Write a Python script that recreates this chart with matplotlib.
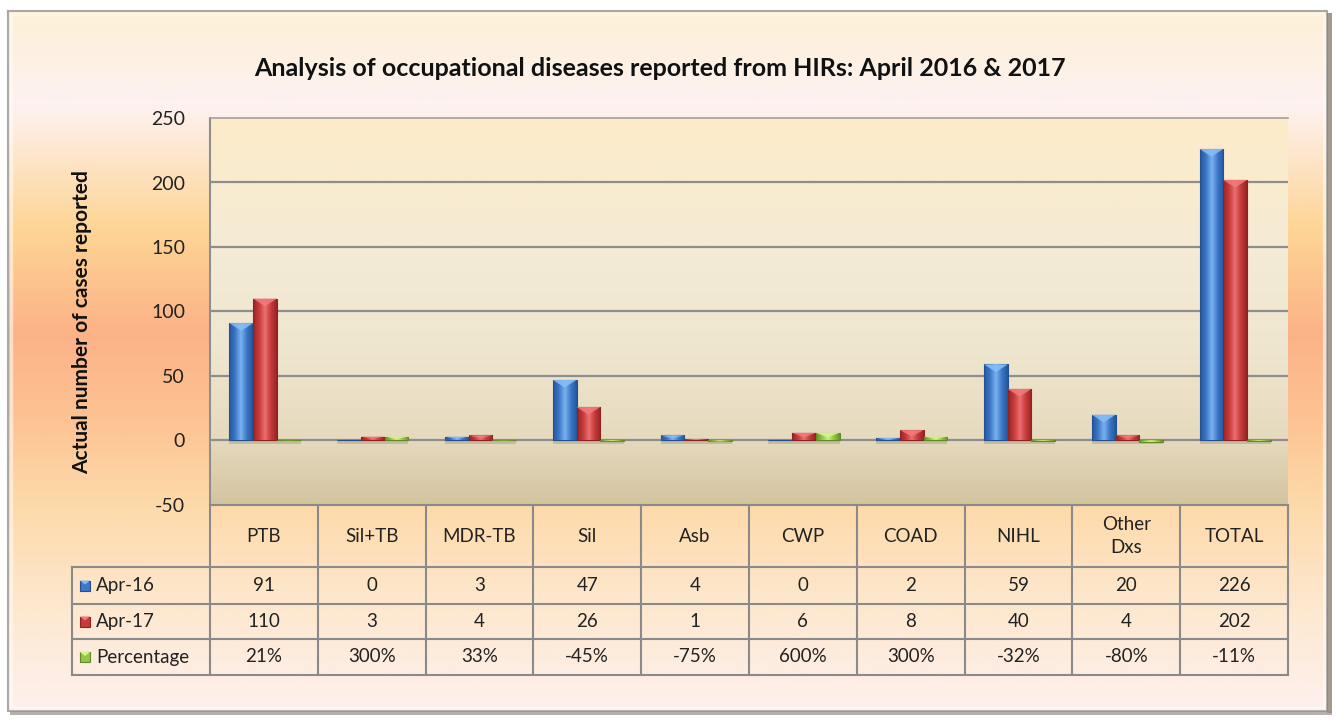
import numpy as np
import matplotlib
matplotlib.use('Agg')
import matplotlib.pyplot as plt
from matplotlib.colors import LinearSegmentedColormap
from matplotlib.patches import Rectangle, Polygon

# data
categories = ['PTB', 'Sil+TB', 'MDR-TB', 'Sil', 'Asb', 'CWP', 'COAD', 'NIHL', 'Other\nDxs', 'TOTAL']
apr16 = [91, 0, 3, 47, 4, 0, 2, 59, 20, 226]
apr17 = [110, 3, 4, 26, 1, 6, 8, 40, 4, 202]
pct_change = [21, 300, 33, -45, -75, 600, 300, -32, -80, -11]
series_names = ['Apr-16', 'Apr-17', 'Percentage']
yticks = [-50, 0, 50, 100, 150, 200, 250]

plt.rcParams['font.family'] = ['Lato', 'DejaVu Sans']

W, H = 1336, 720
fig = plt.figure(figsize=(W / 100, H / 100), dpi=100)

# chart area background (pixel coordinates)
bg = fig.add_axes([0, 0, 1, 1])
bg.set_xlim(0, W)
bg.set_ylim(H, 0)
bg.axis('off')
bg_stops = [(0.0, '#fdf0d6'), (0.13, '#fdf2f2'), (0.31, '#fed595'), (0.46, '#fcb287'),
            (0.58, '#fdc293'), (0.70, '#fdd9a8'), (0.84, '#fde7cc'), (1.0, '#fdf0ee')]
bg_cmap = LinearSegmentedColormap.from_list('bgc', bg_stops)
grad = np.linspace(0, 1, 256).reshape(-1, 1)
bg.imshow(grad, cmap=bg_cmap, extent=(8, 1327, 711, 11), aspect='auto', zorder=0)
bg.add_patch(Rectangle((8, 11), 1319, 700, fill=False, ec='#a8a8a8', lw=1.5, zorder=2))
bg.add_patch(Rectangle((11, 14), 1313, 694, fill=False, ec='#fffaf0', lw=2.5, alpha=0.6, zorder=2))
bg.add_patch(Rectangle((1327, 13), 5, 700, fc='#8d8275', ec='none', alpha=0.8, zorder=2))
bg.add_patch(Rectangle((10, 711), 1322, 4, fc='#9a9088', ec='none', alpha=0.7, zorder=2))

# main plot area
ax = fig.add_axes([210 / W, 1 - 505 / H, 1078 / W, 387 / H])
ax.set_xlim(-0.5, 9.5)
ax.set_ylim(-50, 250)
ax.patch.set_visible(False)
pa_stops = [(0.0, '#fdebc9'), (0.35, '#f4ebd6'), (0.6, '#efe6cf'), (0.83, '#e6dabe'), (1.0, '#d3c4a0')]
pa_cmap = LinearSegmentedColormap.from_list('pac', pa_stops)
ax.imshow(grad, cmap=pa_cmap, extent=(-0.5, 9.5, -50, 250), aspect='auto', zorder=0)

for yv in [0, 50, 100, 150, 200]:
    ax.axhline(yv, color='#8e8e8e', lw=1.6, zorder=1)

ax.set_yticks(yticks)
ax.set_yticklabels([str(v) for v in yticks], fontsize=14, color='#222222')
ax.tick_params(axis='y', length=0, pad=18)
ax.set_xticks([])
for side in ['right', 'bottom']:
    ax.spines[side].set_visible(False)
ax.spines['left'].set_color('#8e8e8e')
ax.spines['left'].set_linewidth(1.5)
ax.spines['top'].set_color('#a0a0a0')
ax.spines['top'].set_linewidth(1.2)

x = np.arange(len(categories))
offsets = [-0.21, 0.01, 0.23]
width = 0.22
series = [apr16, apr17, [p / 100 for p in pct_change]]
styles = [
    ('#3b78c9', '#23508f', '#86bdf5'),
    ('#c93a3a', '#8c2222', '#f27a7a'),
    ('#98c44a', '#5f8a25', '#d6f58a'),
]

for vals, off, (base, dark, light) in zip(series, offsets, styles):
    shade = LinearSegmentedColormap.from_list('sh', [dark, base, light, base, dark])
    # floor shadow
    ax.bar(x + off, [-2.5] * len(vals), width, color='#6d6652', alpha=0.25, zorder=2)
    bars = ax.bar(x + off, vals, width, color=base, edgecolor=dark, lw=0.8, zorder=3)
    for rect, v in zip(bars, vals):
        if v == 0:
            continue
        x0 = rect.get_x()
        x1 = x0 + rect.get_width()
        im = ax.imshow(np.linspace(0, 1, 64).reshape(1, -1), cmap=shade,
                       extent=(x0, x1, min(0, v), max(0, v)), aspect='auto', zorder=3.5,
                       alpha=0.85)
        im.set_clip_path(rect)
        d = min(6, abs(v) * 0.6) * np.sign(v)
        ax.add_patch(Polygon([(x0, v), (x1, v), ((x0 + x1) / 2, v - d)],
                             closed=True, fc=light, ec='none', alpha=0.9, zorder=4))
ax.set_xlim(-0.5, 9.5)
ax.set_ylim(-50, 250)

# data table under the plot (pixel coordinates)
col_x = 210 + np.arange(len(categories) + 1) * 107.8
row_y = [505, 567, 604, 639, 675]
line_c = '#8a8a8a'
tab = fig.add_axes([0, 0, 1, 1])
tab.set_xlim(0, W)
tab.set_ylim(H, 0)
tab.axis('off')
tab.plot([210, col_x[-1]], [row_y[0]] * 2, color=line_c, lw=1.5)
for yy in row_y[1:]:
    tab.plot([72, col_x[-1]], [yy, yy], color=line_c, lw=1.5)
for xx in col_x:
    tab.plot([xx, xx], [row_y[0], row_y[-1]], color=line_c, lw=1.5)
tab.plot([72, 72], [row_y[1], row_y[-1]], color=line_c, lw=1.5)

row_vals = [[str(v) for v in apr16], [str(v) for v in apr17], [f'{p}%' for p in pct_change]]
for i, cat in enumerate(categories):
    cx = (col_x[i] + col_x[i + 1]) / 2
    tab.text(cx, (row_y[0] + row_y[1]) / 2, cat, ha='center', va='center',
             fontsize=13.5, color='#222222', linespacing=1.4)
    for r in range(3):
        cy = (row_y[r + 1] + row_y[r + 2]) / 2
        tab.text(cx, cy, row_vals[r][i], ha='center', va='center', fontsize=13.5, color='#222222')

for r, (name, (base, dark, light)) in enumerate(zip(series_names, styles)):
    cy = (row_y[r + 1] + row_y[r + 2]) / 2
    tab.add_patch(Rectangle((80, cy - 5), 10, 10, fc=base, ec=dark, lw=0.8))
    tab.add_patch(Polygon([(80, cy - 5), (90, cy - 5), (85, cy - 1)], fc=light, ec='none'))
    tab.text(96, cy, name, ha='left', va='center', fontsize=13.5, color='#222222')

fig.text(660 / W, 1 - 68 / H, 'Analysis of occupational diseases reported from HIRs: April 2016 & 2017',
         ha='center', va='center', fontsize=18, fontweight='bold', color='#111111')
fig.text(82 / W, 1 - 322 / H, 'Actual number of cases reported', rotation=90,
         ha='center', va='center', fontsize=15, fontweight='bold', color='#111111')

fig.savefig('out.png', dpi=100)
